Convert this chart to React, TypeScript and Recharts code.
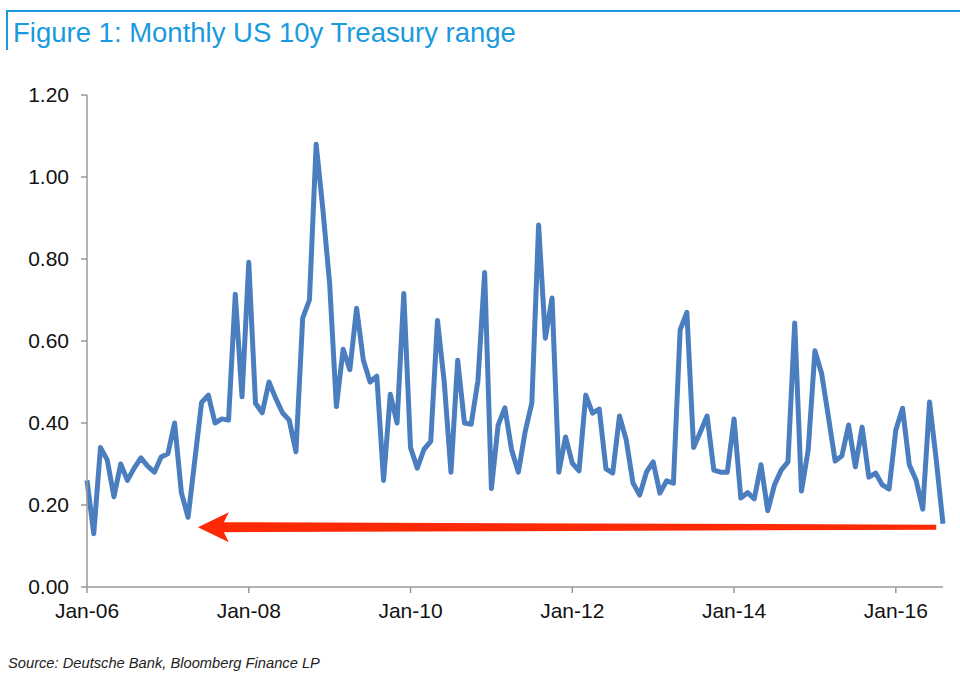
import { LineChart, Line, XAxis, YAxis, ReferenceLine } from 'recharts';

// monthly 10y range, Jan-06 .. Aug-16
const y2006 = [0.26, 0.13, 0.34, 0.31, 0.22, 0.30, 0.26, 0.29, 0.315, 0.295, 0.28, 0.317];
const y2007 = [0.325, 0.40, 0.23, 0.17, 0.31, 0.45, 0.468, 0.40, 0.41, 0.407, 0.714, 0.464];
const y2008 = [0.792, 0.448, 0.425, 0.50, 0.46, 0.425, 0.407, 0.33, 0.656, 0.70, 1.08, 0.92];
const y2009 = [0.74, 0.44, 0.58, 0.53, 0.68, 0.553, 0.50, 0.514, 0.26, 0.47, 0.40, 0.716];
const y2010 = [0.34, 0.29, 0.336, 0.355, 0.65, 0.50, 0.28, 0.553, 0.40, 0.397, 0.503, 0.767];
const y2011 = [0.24, 0.395, 0.437, 0.334, 0.28, 0.378, 0.449, 0.883, 0.607, 0.705, 0.28, 0.366];
const y2012 = [0.302, 0.283, 0.468, 0.424, 0.434, 0.288, 0.278, 0.417, 0.359, 0.254, 0.224, 0.28];
const y2013 = [0.305, 0.229, 0.259, 0.253, 0.627, 0.67, 0.34, 0.378, 0.417, 0.285, 0.28, 0.28];
const y2014 = [0.41, 0.217, 0.23, 0.215, 0.298, 0.186, 0.249, 0.285, 0.305, 0.644, 0.234, 0.334];
const y2015 = [0.576, 0.52, 0.415, 0.307, 0.32, 0.395, 0.293, 0.39, 0.268, 0.278, 0.249, 0.239];
const y2016 = [0.383, 0.436, 0.298, 0.261, 0.19, 0.451, 0.31, 0.154];

const rangeValues = [
  ...y2006, ...y2007, ...y2008, ...y2009, ...y2010, ...y2011,
  ...y2012, ...y2013, ...y2014, ...y2015, ...y2016,
];

const xTicks = [0, 24, 48, 72, 96, 120];
const xTickLabels = ['Jan-06', 'Jan-08', 'Jan-10', 'Jan-12', 'Jan-14', 'Jan-16'];
const yTicks = [0, 0.2, 0.4, 0.6, 0.8, 1.0, 1.2];

// red arrow annotation (month index, value)
const arrowFrom = { x: 126, y: 0.146 };
const arrowTo = { x: 16.45, y: 0.146 };

const data = rangeValues.map((v, i) => ({ m: i, v }));

const BLUE = '#1a9ade';
const FONT = '"Liberation Sans", Arial, Helvetica, sans-serif';

function Arrow(props: any) {
  const { x1, y1, x2, y2 } = props;
  // tip on the left, tail on the right
  const tipX = Math.min(x1, x2);
  const tailX = Math.max(x1, x2);
  const y = (y1 + y2) / 2;
  const headLen = 31;
  const headHalf = 15;
  const bx = tipX + headLen;
  const pts = [
    [tipX, y],
    [bx, y - headHalf],
    [bx - 5, y - 5],
    [tailX, y - 2.5],
    [tailX, y + 2.5],
    [bx - 5, y + 5],
    [bx, y + headHalf],
  ]
    .map((p) => p.join(','))
    .join(' ');
  return <polygon points={pts} fill="#fe2a05" />;
}

export default function App() {
  return (
    <div style={{ position: 'absolute', left: 0, top: 0, width: 960, height: 680, background: '#fff', fontFamily: FONT }}>
      <div style={{ position: 'absolute', left: 6, top: 10, right: 0, height: 0, borderTop: `2px solid ${BLUE}` }} />
      <div style={{ position: 'absolute', left: 6, top: 10, width: 0, height: 40, borderLeft: `2px solid ${BLUE}` }} />
      <div style={{ position: 'absolute', left: 13, top: 17, fontSize: 27.5, color: BLUE, whiteSpace: 'nowrap' }}>
        Figure 1: Monthly US 10y Treasury range
      </div>
      <div style={{ position: 'absolute', left: 0, top: 0 }}>
        <LineChart width={960} height={680} data={data} margin={{ top: 95, right: 17, bottom: 53, left: 0 }}>
          <XAxis
            dataKey="m"
            type="number"
            domain={[0, 127]}
            ticks={xTicks}
            tickFormatter={(v) => xTickLabels[xTicks.indexOf(v)] ?? ''}
            axisLine={{ stroke: '#999', strokeWidth: 1.5 }}
            tickLine={{ stroke: '#999', strokeWidth: 1.5 }}
            tickSize={6}
            tickMargin={10}
            height={40}
            tick={{ fill: '#111', fontSize: 21, fontFamily: FONT }}
            interval={0}
          />
          <YAxis
            domain={[0, 1.2]}
            ticks={yTicks}
            tickFormatter={(v) => Number(v).toFixed(2)}
            axisLine={{ stroke: '#999', strokeWidth: 1.5 }}
            tickLine={{ stroke: '#999', strokeWidth: 1.5 }}
            tickSize={6}
            tickMargin={12}
            width={87}
            tick={{ fill: '#111', fontSize: 21, fontFamily: FONT }}
            interval={0}
          />
          <Line
            type="linear"
            dataKey="v"
            stroke="#4a7ebf"
            strokeWidth={5}
            strokeLinejoin="round"
            dot={false}
            activeDot={false}
            isAnimationActive={false}
          />
          <ReferenceLine
            segment={[arrowFrom, arrowTo]}
            stroke="#fe2a05"
            ifOverflow="visible"
            shape={Arrow}
          />
        </LineChart>
      </div>
      <div style={{ position: 'absolute', left: 8, top: 655, fontSize: 14.7, fontStyle: 'italic', color: '#222', whiteSpace: 'nowrap' }}>
        Source: Deutsche Bank, Bloomberg Finance LP
      </div>
    </div>
  );
}
